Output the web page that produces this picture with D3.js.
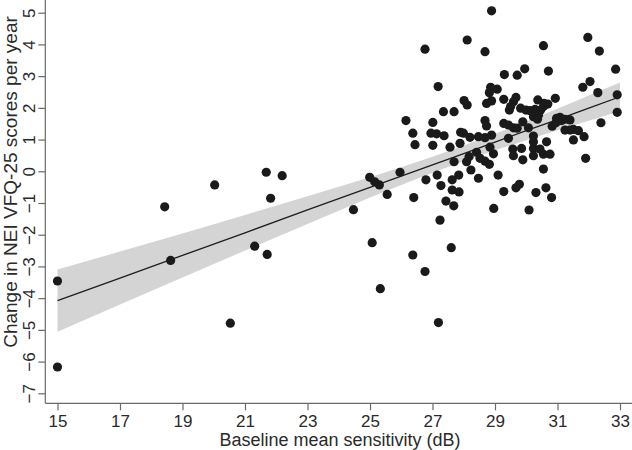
<!DOCTYPE html>
<html>
<head>
<meta charset="utf-8">
<script src="https://cdn.jsdelivr.net/npm/d3@7"></script>
<style>
  body { margin: 0; background: #fff; }
  svg { display: block; font-family: "Liberation Sans", Arial, Helvetica, sans-serif; }
</style>
</head>
<body>
<script>
// baseline mean sensitivity (dB) and yearly change in NEI VFQ-25 score
const baselineDb = [
  15.0, 15.0, 18.43, 18.62, 20.03, 20.53, 21.31, 21.68, 22.19, 21.82, 21.71, 24.47, 24.99, 25.15, 25.3, 25.07, 25.33,
  26.37, 26.76, 27.6, 27.24, 26.40, 25.55, 25.96, 26.79, 27.15, 27.27, 27.63, 27.63, 27.85, 27.84, 27.43, 27.68,
  27.69, 28.09, 28.23, 28.47, 28.17, 28.41, 28.52, 28.68, 28.82, 28.95, 28.84, 29.1, 28.96, 29.28, 26.44, 27.01,
  27.56, 27.88, 27.19,
  29.57, 29.85, 30.23, 30.44, 30.76, 29.59, 29.89, 30.23, 30.55, 31.9, 30.55, 29.67, 29.78, 30.31, 30.63, 30.81, 30.09,
  28.89, 28.11, 26.76, 28.68, 29.3, 27.18, 28.86, 29.07, 28.82, 29.28, 28.01, 28.11, 28.73, 28.89, 27.35, 27.69,
  26.15, 27.01, 28.68, 28.73, 29.28, 26.37, 26.95, 27.13, 27.37, 27.90, 27.99, 28.2, 28.47, 28.68, 28.89,
  31.97, 32.34, 30.55, 32.86, 30.71, 29.71, 29.95, 31.81, 32.04, 32.29, 32.91, 32.91, 32.39, 30.93, 30.37, 30.69,
  29.67, 29.59, 29.50, 29.46, 29.82, 29.99, 30.12, 30.28, 30.46, 30.55, 30.23, 30.39, 30.36, 29.43, 29.59, 29.71,
  29.89, 30.07, 29.43, 30.23, 30.23, 30.65, 30.83, 30.97, 31.08, 30.95, 31.13, 31.24, 31.40, 31.24, 31.40, 31.51,
  31.67, 31.51, 31.85, 30.57
];
const changePerYear = [
  -3.46, -6.17, -1.12, -2.81, -0.43, -4.79, -2.36, -0.03, -0.14, -0.85, -2.62, -1.21, -0.19, -0.33, -0.43, -2.25, -3.70,
  -2.64, -3.16, -2.41, -1.54, -0.83, -0.73, -0.03, -0.27, -0.12, -0.45, -0.27, -0.59, -0.65, -0.12, -0.94, -1.09,
  0.30, 0.30, 0.04, -0.22, 0.46, 0.60, 0.41, 0.32, 0.22, 0.55, 0.76, -0.12, -1.17, -0.64, 0.84, 0.82,
  0.76, 0.88, -4.77,
  0.70, 0.72, 0.72, 0.70, 0.54, 0.49, 0.36, 0.49, 0.54, 0.41, 0.07, -0.52, -0.41, -0.67, -0.52, -0.83, -1.22,
  5.06, 4.14, 3.85, 3.77, 3.05, 2.67, 2.65, 2.59, 2.48, 2.27, 2.23, 2.09, 2.14, 2.22, 1.88, 1.88,
  1.60, 1.54, 1.60, 1.43, 1.51, 1.20, 1.20, 1.18, 1.12, 1.23, 1.20, 1.07, 1.09, 1.06, 1.14,
  4.22, 3.79, 3.96, 3.22, 3.16, 3.03, 3.23, 2.65, 2.83, 2.48, 2.41, 1.86, 1.53, 2.30, 2.25, 2.12,
  2.33, 2.19, 2.04, 1.93, 1.99, 1.93, 1.91, 1.95, 1.93, 2.04, 1.72, 1.77, 1.64, 1.46, 1.37, 1.36,
  1.56, 1.37, 1.04, 1.11, 0.93, 0.93, 1.42, 1.67, 1.70, 1.53, 1.60, 1.64, 1.62, 1.30, 1.30, 1.32,
  1.28, 0.99, 1.09, 2.14
];

// fitted line with its 95% confidence band
const fitX = [15, 17, 19, 21, 23, 25, 26, 27, 28, 29, 30, 31, 32, 33];
const fitY = [-4.08, -3.37, -2.65, -1.94, -1.22, -0.51, -0.15, 0.20, 0.56, 0.92, 1.28, 1.63, 1.99, 2.35];
const bandLo = [-5.06, -4.20, -3.35, -2.50, -1.66, -0.83, -0.43, -0.05, 0.32, 0.66, 0.98, 1.29, 1.59, 1.89];
const bandHi = [-3.10, -2.53, -1.96, -1.38, -0.79, -0.19, 0.13, 0.46, 0.81, 1.18, 1.57, 1.97, 2.39, 2.80];

const xTicks = [15, 17, 19, 21, 23, 25, 27, 29, 31, 33];
const yTicks = [5, 4, 3, 2, 1, 0, -1, -2, -3, -4, -5, -6, -7];

const W = 632, H = 450;
const axisX = 45.3, axisY = 403.3;

const svg = d3.select('body').append('svg')
    .attr('width', W)
    .attr('height', H);

const x = d3.scaleLinear().domain([15, 33]).range([57.5, 620]);
const y = d3.scaleLinear().domain([-7, 5]).range([393.3, 12.7]);

const band = fitX.map((v, i) => ({ x: v, lo: bandLo[i], hi: bandHi[i], fit: fitY[i] }));

svg.append('path')
    .datum(band)
    .attr('fill', '#d4d4d4')
    .attr('d', d3.area().x(d => x(d.x)).y0(d => y(d.lo)).y1(d => y(d.hi)));

svg.append('path')
    .datum(band)
    .attr('fill', 'none')
    .attr('stroke', '#1e1e1e')
    .attr('stroke-width', 1.3)
    .attr('d', d3.line().x(d => x(d.x)).y(d => y(d.fit)));

svg.append('g')
  .selectAll('circle')
  .data(baselineDb.map((v, i) => [v, changePerYear[i]]))
  .join('circle')
    .attr('cx', d => x(d[0]))
    .attr('cy', d => y(d[1]))
    .attr('r', 4.6)
    .attr('fill', '#1a1a1a');

// axes
const axisColor = '#6a6a6a';

svg.append('line')
    .attr('x1', axisX).attr('x2', axisX)
    .attr('y1', 0).attr('y2', axisY)
    .attr('stroke', axisColor).attr('stroke-width', 1.2);

svg.append('line')
    .attr('x1', axisX).attr('x2', W)
    .attr('y1', axisY).attr('y2', axisY)
    .attr('stroke', axisColor).attr('stroke-width', 1.2);

const gx = svg.append('g')
    .attr('transform', `translate(0, ${axisY})`)
    .call(d3.axisBottom(x).tickValues(xTicks).tickSize(7).tickPadding(5).tickFormat(d3.format('d')));

const gy = svg.append('g')
    .attr('transform', `translate(${axisX}, 0)`)
    .call(d3.axisLeft(y).tickValues(yTicks).tickSize(7).tickFormat(d3.format('d')));

[gx, gy].forEach(g => {
    g.select('.domain').remove();
    g.selectAll('line').attr('stroke', axisColor).attr('stroke-width', 1.2);
    g.selectAll('text')
        .attr('fill', '#2a2a2a')
        .style('font-size', '17px')
        .style('font-family', '"Liberation Sans", Arial, sans-serif');
});

gy.selectAll('text')
    .attr('x', 0)
    .attr('dy', 0)
    .attr('text-anchor', 'middle')
    .attr('transform', 'translate(-10, 0) rotate(-90)');

svg.append('text')
    .attr('x', 340)
    .attr('y', 446)
    .attr('text-anchor', 'middle')
    .attr('fill', '#2a2a2a')
    .style('font-size', '18px')
    .text('Baseline mean sensitivity (dB)');

svg.append('text')
    .attr('transform', 'translate(17, 182) rotate(-90)')
    .attr('text-anchor', 'middle')
    .attr('fill', '#2a2a2a')
    .style('font-size', '19px')
    .text('Change in NEI VFQ-25 scores per year');
</script>
</body>
</html>
